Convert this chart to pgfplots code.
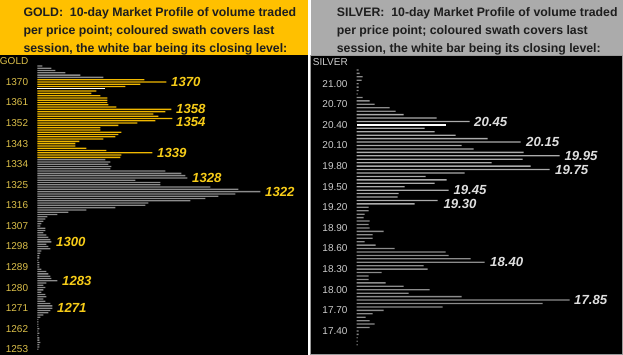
\documentclass[border=0pt]{standalone}
\usepackage{fontspec}
\setmainfont{Liberation Sans}
\usepackage{pgfplots}
\pgfplotsset{compat=1.18}
\definecolor{goldhdr}{HTML}{FFC000}
\definecolor{silverhdr}{HTML}{ABABAB}
\definecolor{goldbar}{HTML}{F0B800}
\definecolor{goldgrey}{HTML}{8C8C8C}
\definecolor{goldtick}{HTML}{DCC04A}
\definecolor{goldlab}{HTML}{F7CC18}
\definecolor{silvbar}{HTML}{ABABAB}
\definecolor{silvgrey}{HTML}{8C8C8C}
\definecolor{silvtick}{HTML}{CCCCCC}
\definecolor{silvlab}{HTML}{DEDEDE}
\definecolor{hdrtext}{HTML}{1E1E1E}
\definecolor{silvframe}{HTML}{9A9A9A}
\newcommand\hdrfont{\fontsize{12.3}{14}\selectfont\bfseries}
\newcommand\tickfont{\fontsize{10}{12}\selectfont}
\newcommand\labfont{\fontsize{13.2}{15}\selectfont\bfseries\itshape}
\pgfplotsset{
  mp/.style={scale only axis, height=300pt, xmin=0, clip=false,
    axis line style={draw=none}, tick style={draw=none}, xtick=\empty,
    /pgf/number format/assume math mode=true,
    yticklabel style={inner sep=0pt, anchor=east, xshift=-9pt, font=\tickfont}},
  hb/.style={xbar, bar shift=0pt, bar width=1.3pt, draw=none, fill=#1},
}
\begin{document}
\begin{tikzpicture}[x=1pt,y=1pt]
\useasboundingbox (0,0) rectangle (623,355);
\fill[white] (0,0) rectangle (623,355);
\fill[goldhdr] (0,300) rectangle (308,355);
\fill[silverhdr] (311,300) rectangle (623,355);
\fill[black] (0,0) rectangle (308,300);
\fill[black] (310,0) rectangle (623,300);
\draw[silvframe, line width=0.8pt] (310.4,0.4) rectangle (622.6,300);
% headers
\node[anchor=base west, inner sep=0, text=hdrtext, font=\hdrfont] at (23.3,338.3) {GOLD:\ \ 10-day Market Profile of volume traded};
\node[anchor=base west, inner sep=0, text=hdrtext, font=\hdrfont] at (23.3,320.5) {per price point; coloured swath covers last};
\node[anchor=base west, inner sep=0, text=hdrtext, font=\hdrfont] at (23.3,302.7) {session, the white bar being its closing level:};
\node[anchor=base west, inner sep=0, text=hdrtext, font=\hdrfont] at (336.7,338.3) {SILVER:\ \ 10-day Market Profile of volume traded};
\node[anchor=base west, inner sep=0, text=hdrtext, font=\hdrfont] at (336.7,320.5) {per price point; coloured swath covers last};
\node[anchor=base west, inner sep=0, text=hdrtext, font=\hdrfont] at (336.7,302.7) {session, the white bar being its closing level:};
\node[anchor=east, inner sep=0, text=goldtick, font=\tickfont] at (28.5,293.5) {GOLD};
\node[anchor=east, inner sep=0, text=silvtick, font=\tickfont] at (348,292.5) {SILVER};
% GOLD
\begin{axis}[mp, at={(37.3,0)}, anchor=south west, width=270.7pt, xmax=270.7,
  ymin=1250.5, ymax=1381.8,
  ytick={1253,1262,1271,1280,1289,1298,1307,1316,1325,1334,1343,1352,1361,1370},
  yticklabels={1253,1262,1271,1280,1289,1298,1307,1316,1325,1334,1343,1352,1361,1370},
  yticklabel style={text=goldtick}]
\addplot[hb=goldgrey] coordinates {(5,1377) (14,1376) (18,1375) (28,1374) (43,1373) (66,1372)};
\addplot[hb=goldbar] coordinates {(107,1371) (129,1370) (103,1369) (88,1368)
 (59,1366) (54,1365) (63,1364) (70,1363) (70,1362) (70,1361) (71,1360) (79,1359)
 (134,1358) (128,1357) (116,1356) (121,1355) (135,1354) (118,1353) (100,1352) (81,1351)
 (63,1350) (63,1349) (84,1348) (81,1347) (78,1346) (66,1345) (42,1344) (38,1343)
 (38,1342) (49,1341) (69,1340) (115,1339) (84,1338) (83,1337)};
\addplot[hb=white] coordinates {(68,1367)};
\addplot[hb=goldgrey] coordinates {(68,1336) (73,1335) (71,1334) (74,1333) (73,1332)
 (128,1331) (144,1330) (148,1329) (150,1328) (98,1327) (123,1326) (123,1325) (173,1324)
 (201,1323) (223,1322) (198,1321) (181,1320) (168,1319) (153,1318) (111,1317) (108,1316)
 (78,1315) (49,1314) (31,1313) (20,1312) (10,1311) (8,1310) (6,1309) (4,1308) (3,1307)
 (8,1306) (8,1305) (6,1304) (9,1303) (11,1302) (13,1301) (14,1300) (9,1299) (11,1298)
 (13,1297) (4,1296) (3,1295) (2,1294) (2,1293) (1,1292) (2,1291) (2,1290) (2,1289)
 (4,1288) (9,1287) (11,1286) (13,1285) (14,1284) (20,1283) (9,1282) (6,1281) (8,1280)
 (6,1279) (4,1278) (8,1277) (9,1276) (6,1275) (8,1274) (13,1273) (15,1272) (15,1271)
 (13,1270) (11,1269) (6,1268) (3,1267) (1,1266) (1,1265) (1,1264) (1,1263) (2,1262)
 (1,1261) (2,1260) (1,1259) (2,1258) (2,1257) (3,1256) (2,1255) (2,1254) (1,1253)};
\begin{scope}[every node/.style={anchor=west, inner sep=0, text=goldlab, font=\labfont}]
\node at (axis cs:133.7,1370) {1370};
\node at (axis cs:138.7,1358) {1358};
\node[yshift=-3.7pt] at (axis cs:138.7,1354) {1354};
\node at (axis cs:119.7,1339) {1339};
\node at (axis cs:154.7,1328) {1328};
\node at (axis cs:227.7,1322) {1322};
\node at (axis cs:18.7,1300) {1300};
\node at (axis cs:24.7,1283) {1283};
\node at (axis cs:19.7,1271) {1271};
\end{scope}
\end{axis}
% SILVER
\begin{axis}[mp, at={(356.7,0)}, anchor=south west, width=266.3pt, xmax=266.3,
  ymin=17.05, ymax=21.418,
  ytick={17.4,17.7,18.0,18.3,18.6,18.9,19.2,19.5,19.8,20.1,20.4,20.7,21.0},
  yticklabels={17.40,17.70,18.00,18.30,18.60,18.90,19.20,19.50,19.80,20.10,20.40,20.70,21.00},
  yticklabel style={text=silvtick}]
\addplot[hb=silvgrey] coordinates {(2,21.20) (3,21.15) (6,21.10) (5,21.05) (2,21.00)
 (2,20.95) (2,20.90) (1,20.85) (6,20.80) (13,20.75) (18,20.70) (33,20.65) (39,20.60)};
\addplot[hb=silvbar] coordinates {(47,20.55) (80,20.50) (113,20.45) (68,20.35) (78,20.30)
 (99,20.25) (131,20.20) (164,20.15) (105,20.10) (117,20.05) (167,20.00) (203,19.95)
 (166,19.90) (135,19.85) (174,19.80) (193,19.75) (108,19.70) (69,19.65) (90,19.60)
 (78,19.55) (48,19.50) (92,19.45) (42,19.40) (41,19.35) (81,19.30) (58,19.25)};
\addplot[hb=white] coordinates {(89,20.40)};
\addplot[hb=silvgrey] coordinates {(12,19.20) (12,19.15) (8,19.10) (7,19.05) (13,19.00)
 (12,18.95) (13,18.90) (27,18.85) (16,18.80) (16,18.75) (8,18.70) (19,18.65) (38,18.60)
 (89,18.55) (92,18.50) (114,18.45) (128,18.40) (67,18.35) (71,18.30) (25,18.25)
 (12,18.20) (12,18.15) (29,18.10) (47,18.05) (73,18.00) (52,17.95) (105,17.90)
 (213,17.85) (186,17.80) (86,17.75) (27,17.70) (16,17.65) (9,17.60) (13,17.55)
 (18,17.50) (13,17.45) (2,17.40) (2,17.35) (1,17.30) (1,17.25) (1,17.20)};
\begin{scope}[every node/.style={anchor=west, inner sep=0, text=silvlab, font=\labfont}]
\node at (axis cs:117.3,20.45) {20.45};
\node at (axis cs:169.3,20.15) {20.15};
\node at (axis cs:207.6,19.95) {19.95};
\node at (axis cs:198.3,19.75) {19.75};
\node at (axis cs:96.6,19.45) {19.45};
\node[yshift=-3pt] at (axis cs:86.6,19.30) {19.30};
\node at (axis cs:133.3,18.40) {18.40};
\node at (axis cs:217.3,17.85) {17.85};
\end{scope}
\end{axis}
\end{tikzpicture}
\end{document}
